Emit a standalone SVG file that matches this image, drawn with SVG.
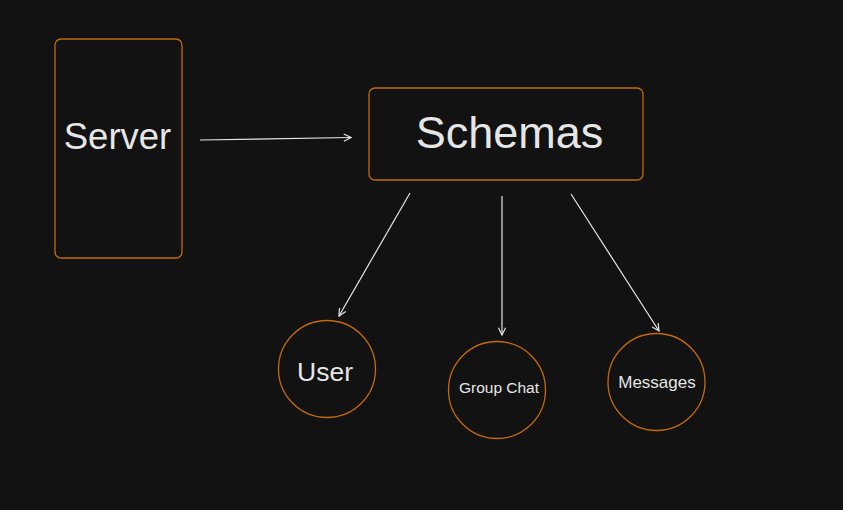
<svg xmlns="http://www.w3.org/2000/svg" width="843" height="510" viewBox="0 0 843 510">
<style>
.box{fill:#121212;stroke:#c4690c;stroke-width:1.3}
.lbl{fill:#e6e6e6;font-family:"Liberation Sans",Arial,sans-serif;text-anchor:middle}
.edge{stroke:#e6e6e6;stroke-width:1.2;fill:none;marker-end:url(#ah)}
</style>
<defs>
<marker id="ah" viewBox="0 0 10 10" refX="9" refY="5" markerWidth="9" markerHeight="9" markerUnits="userSpaceOnUse" orient="auto">
<path d="M1,1 L9,5 L1,9" fill="none" stroke="#e6e6e6" stroke-width="1.3"/>
</marker>
</defs>
<rect width="843" height="510" fill="#121212"/>
<g id="server">
<rect class="box" x="55" y="39" width="127" height="219" rx="6"/>
<text class="lbl" x="117.5" y="148.5" font-size="36.5">Server</text>
</g>
<g id="schemas">
<rect class="box" x="369" y="88" width="274" height="92" rx="6"/>
<text class="lbl" x="509.5" y="148" font-size="45">Schemas</text>
</g>
<g id="user">
<circle class="box" cx="327" cy="369" r="48.5"/>
<text class="lbl" x="325" y="380.5" font-size="26.5">User</text>
</g>
<g id="groupchat">
<circle class="box" cx="497" cy="390" r="48.5"/>
<text class="lbl" x="499" y="393" font-size="15.5">Group Chat</text>
</g>
<g id="messages">
<circle class="box" cx="656.5" cy="382" r="48.5"/>
<text class="lbl" x="657" y="388" font-size="17">Messages</text>
</g>
<g id="connectors">
<line class="edge" x1="200" y1="140" x2="351" y2="137.5"/>
<line class="edge" x1="410" y1="193" x2="339" y2="316"/>
<line class="edge" x1="502" y1="196" x2="502" y2="335"/>
<line class="edge" x1="571" y1="194" x2="659" y2="331"/>
</g>
</svg>
